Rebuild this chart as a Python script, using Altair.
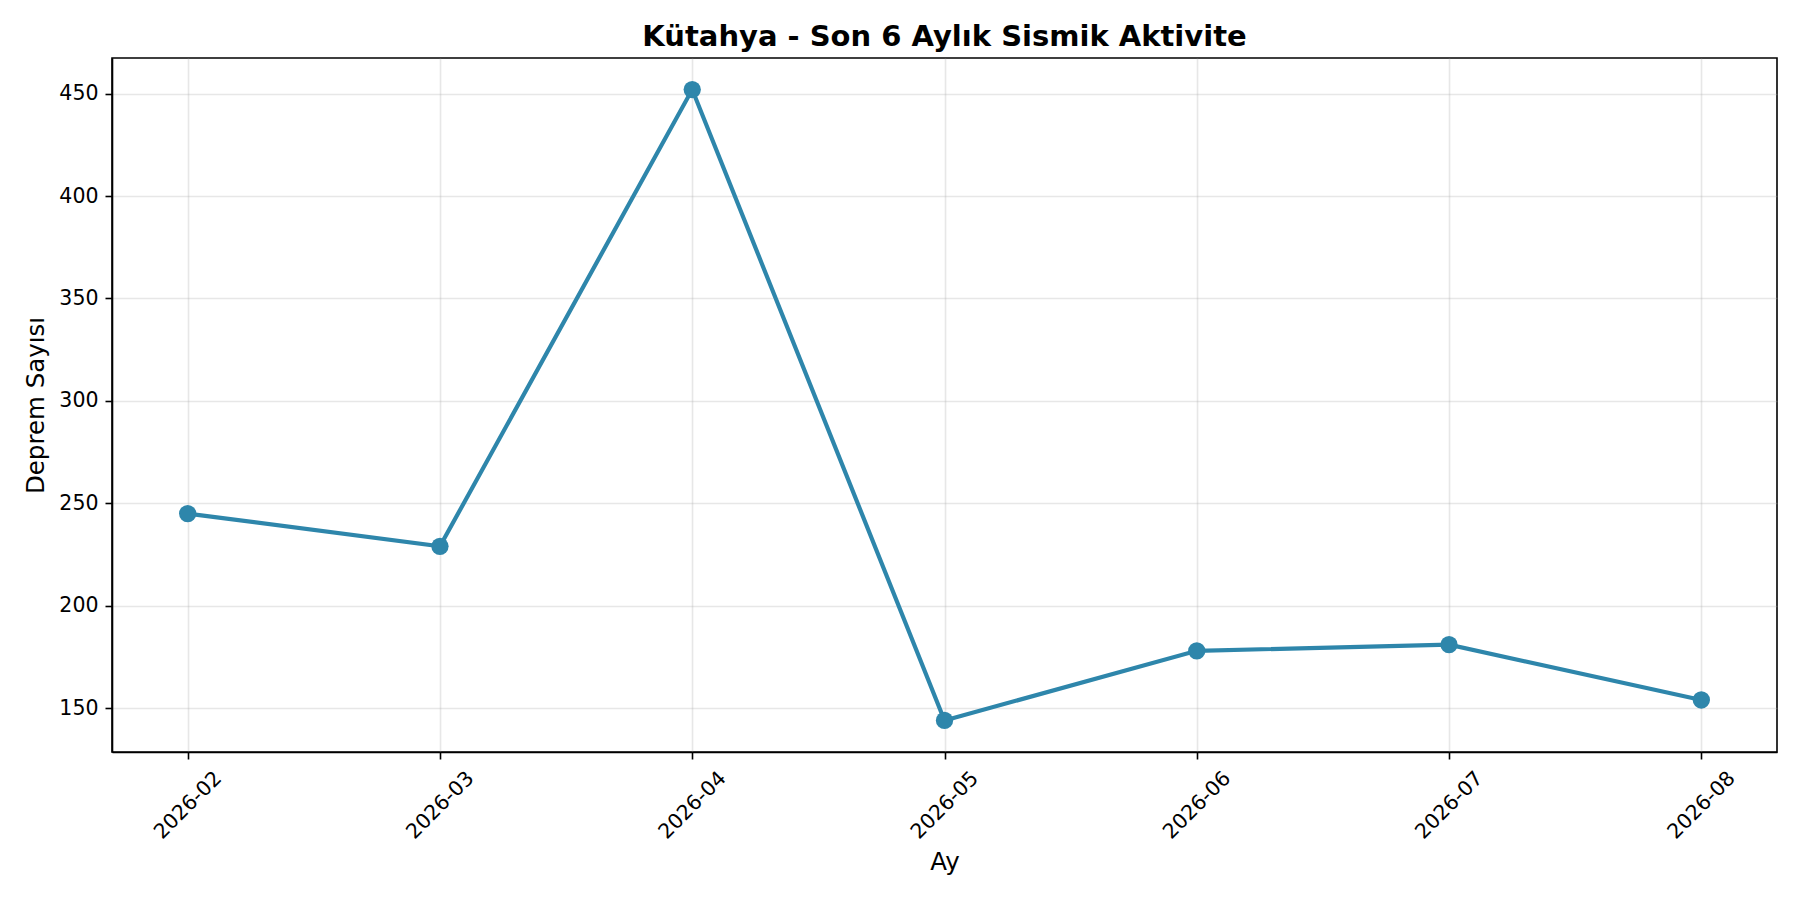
import altair as alt
import pandas as pd

months = ["2026-02", "2026-03", "2026-04", "2026-05", "2026-06", "2026-07", "2026-08"]
counts = [245, 229, 452, 144, 178, 181, 154]
y_ticks = [150, 200, 250, 300, 350, 400, 450]

df = pd.DataFrame({"Ay": months, "Deprem": counts})

FONT = "DejaVu Sans"
COLOR = "#2E86AB"

common = dict(labelFontSize=20.5, titleFontSize=24.5, titleFontWeight="normal",
              labelColor="black", titleColor="black", domainColor="black",
              tickColor="black", tickSize=7, grid=True, gridColor="#b0b0b0",
              gridOpacity=0.3, gridWidth=1.6)

x = alt.X("Ay:O", sort=months,
          scale=alt.Scale(type="point", padding=0.3),
          axis=alt.Axis(title="Ay", labelAngle=-45, labelAlign="center", labelBaseline="middle",
                        labelPadding=46, titlePadding=8, labelOverlap=False, **common))
y = alt.Y("Deprem:Q",
          scale=alt.Scale(domain=[128.6, 467.4], nice=False, zero=False),
          axis=alt.Axis(title="Deprem Sayısı", values=y_ticks, labelPadding=7,
                        titlePadding=10, **common))

base = alt.Chart(df).encode(x=x, y=y)
line = base.mark_line(color=COLOR, strokeWidth=4.2)
pts = base.mark_point(filled=True, color=COLOR, size=300, opacity=1)

chart = (line + pts).properties(
    width=1665, height=694,
    title=alt.TitleParams("Kütahya - Son 6 Aylık Sismik Aktivite", fontSize=29,
                          fontWeight="bold", font=FONT, color="black", anchor="middle", offset=6),
    autosize=alt.AutoSizeParams(type="none"),
    padding={"left": 104, "top": 50, "right": 15, "bottom": 134},
).configure(font=FONT).configure_view(stroke="black", strokeWidth=1.6).configure_axis(
    labelFont=FONT, titleFont=FONT, domainWidth=1.6, tickWidth=1.6
)

chart.save("out.html", embed_options={"renderer": "svg", "actions": False})
